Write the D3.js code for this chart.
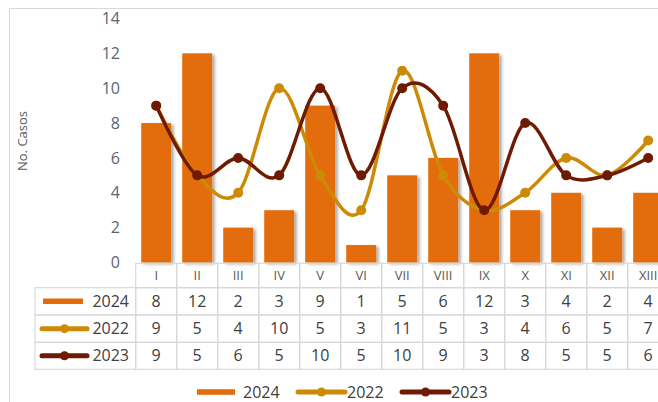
<!DOCTYPE html>
<html>
<head>
<meta charset="utf-8">
<script src="https://cdn.jsdelivr.net/npm/d3@7"></script>
<style>
body { margin: 0; background: #fff; }
svg { display: block; font-family: 'Open Sans', sans-serif; }
</style>
</head>
<body>
<svg id="canvas"></svg>
<script>
const width = 658;
const height = 402;

// datos
const months = ['I', 'II', 'III', 'IV', 'V', 'VI', 'VII', 'VIII', 'IX', 'X', 'XI', 'XII', 'XIII'];
const casos2024 = [8, 12, 2, 3, 9, 1, 5, 6, 12, 3, 4, 2, 4];
const casos2022 = [9, 5, 4, 10, 5, 3, 11, 5, 3, 4, 6, 5, 7];
const casos2023 = [9, 5, 6, 5, 10, 5, 10, 9, 3, 8, 5, 5, 6];
const yTicks = [0, 2, 4, 6, 8, 10, 12, 14];

const colBar = '#e36c09';
const col2022 = '#cc8a07';
const col2023 = '#6f1a02';
const gridCol = '#d9d9d9';

const svg = d3.select('#canvas')
    .attr('width', width)
    .attr('height', height);

const defs = svg.append('defs');
defs.append('filter')
    .attr('id', 'shadow')
    .attr('x', '-20%').attr('y', '-20%')
    .attr('width', '160%').attr('height', '140%')
    .append('feDropShadow')
    .attr('dx', 2.5).attr('dy', 1.5)
    .attr('stdDeviation', 1.5)
    .attr('flood-color', '#000')
    .attr('flood-opacity', 0.35);

// marco
svg.append('rect')
    .attr('x', 9.5).attr('y', 8.5)
    .attr('width', 700).attr('height', 500)
    .attr('fill', 'none')
    .attr('stroke', gridCol);

const x = d3.scaleBand()
    .domain(months)
    .range([135.7, 135.7 + 13 * 41]);

const y = d3.scaleLinear()
    .domain([0, 14])
    .range([262.5, 18.5]);

// eje Y
const gy = svg.append('g')
    .attr('transform', 'translate(122,0)')
    .call(d3.axisLeft(y).tickValues(yTicks).tickSize(0).tickPadding(2).tickFormat(d3.format('d')));
gy.select('.domain').remove();
gy.selectAll('text')
    .attr('font-family', "'Open Sans', sans-serif")
    .attr('font-size', 16)
    .attr('fill', '#5a6377');

svg.append('text')
    .attr('transform', 'translate(27,141) rotate(-90)')
    .attr('text-anchor', 'middle')
    .attr('font-size', 13)
    .attr('fill', '#595959')
    .text('No. Casos');

// barras
const barW = x.bandwidth() * 0.73;
svg.append('g')
    .attr('filter', 'url(#shadow)')
    .selectAll('rect')
    .data(casos2024)
    .join('rect')
    .attr('x', (d, i) => x(months[i]) + (x.bandwidth() - barW) / 2)
    .attr('y', d => y(d))
    .attr('width', barW)
    .attr('height', d => y(0) - y(d))
    .attr('fill', colBar);

// líneas
const line = d3.line()
    .x((d, i) => x(months[i]) + x.bandwidth() / 2)
    .y(d => y(d))
    .curve(d3.curveCardinal.tension(0));

const drawSeries = (data, color) => {
    const g = svg.append('g');
    g.append('path')
        .datum(data)
        .attr('fill', 'none')
        .attr('stroke', color)
        .attr('stroke-width', 3.5)
        .attr('d', line);
    g.selectAll('circle')
        .data(data)
        .join('circle')
        .attr('cx', (d, i) => x(months[i]) + x.bandwidth() / 2)
        .attr('cy', d => y(d))
        .attr('r', 5)
        .attr('fill', color);
};
drawSeries(casos2022, col2022);
drawSeries(casos2023, col2023);

// tabla de datos
const rowTop = [263.3, 287.7, 315, 342.3, 369.3];
const table = svg.append('g');
const keyX0 = 35;

// fila de categorías
months.forEach(m => {
    table.append('rect')
        .attr('x', x(m)).attr('y', rowTop[0])
        .attr('width', x.bandwidth()).attr('height', rowTop[1] - rowTop[0])
        .attr('fill', 'none').attr('stroke', gridCol).attr('stroke-width', 1.2);
    table.append('text')
        .attr('x', x(m) + x.bandwidth() / 2)
        .attr('y', (rowTop[0] + rowTop[1]) / 2 + 4.5)
        .attr('text-anchor', 'middle')
        .attr('font-size', 13)
        .attr('fill', '#595959')
        .text(m);
});

const rows = [
    { name: '2024', values: casos2024, color: colBar, marker: false },
    { name: '2022', values: casos2022, color: col2022, marker: true },
    { name: '2023', values: casos2023, color: col2023, marker: true }
];

const drawKey = (g, x0, x1, cy, r) => {
    g.append('line')
        .attr('x1', x0).attr('x2', x1)
        .attr('y1', cy).attr('y2', cy)
        .attr('stroke', r.color)
        .attr('stroke-width', r.marker ? 5 : 5.5)
        .attr('stroke-linecap', r.marker ? 'round' : 'butt');
    if (r.marker) {
        g.append('circle')
            .attr('cx', (x0 + x1) / 2).attr('cy', cy)
            .attr('r', 4.5)
            .attr('fill', r.color);
    }
};

rows.forEach((r, k) => {
    const top = rowTop[k + 1];
    const bot = rowTop[k + 2];
    const cy = (top + bot) / 2;
    table.append('rect')
        .attr('x', keyX0).attr('y', top)
        .attr('width', x(months[0]) - keyX0).attr('height', bot - top)
        .attr('fill', 'none').attr('stroke', gridCol).attr('stroke-width', 1.2);
    if (r.marker) drawKey(table, 42, 87, cy, r);
    else drawKey(table, 43, 83, cy, r);
    table.append('text')
        .attr('x', 129)
        .attr('y', cy + 5.5)
        .attr('text-anchor', 'end')
        .attr('font-size', 16)
        .attr('fill', '#404040')
        .text(r.name);
    r.values.forEach((v, i) => {
        table.append('rect')
            .attr('x', x(months[i])).attr('y', top)
            .attr('width', x.bandwidth()).attr('height', bot - top)
            .attr('fill', 'none').attr('stroke', gridCol).attr('stroke-width', 1.2);
        table.append('text')
            .attr('x', x(months[i]) + x.bandwidth() / 2)
            .attr('y', cy + 5.5)
            .attr('text-anchor', 'middle')
            .attr('font-size', 16)
            .attr('fill', '#404040')
            .text(v);
    });
});

// leyenda
const legend = svg.append('g');
const legendPos = [
    { key: [197, 235], text: 243 },
    { key: [298, 345], text: 347 },
    { key: [402, 449], text: 451 }
];
rows.forEach((r, k) => {
    const p = legendPos[k];
    drawKey(legend, p.key[0], p.key[1], 392, r);
    legend.append('text')
        .attr('x', p.text)
        .attr('y', 398)
        .attr('font-size', 16)
        .attr('fill', '#404040')
        .text(r.name);
});
</script>
</body>
</html>
